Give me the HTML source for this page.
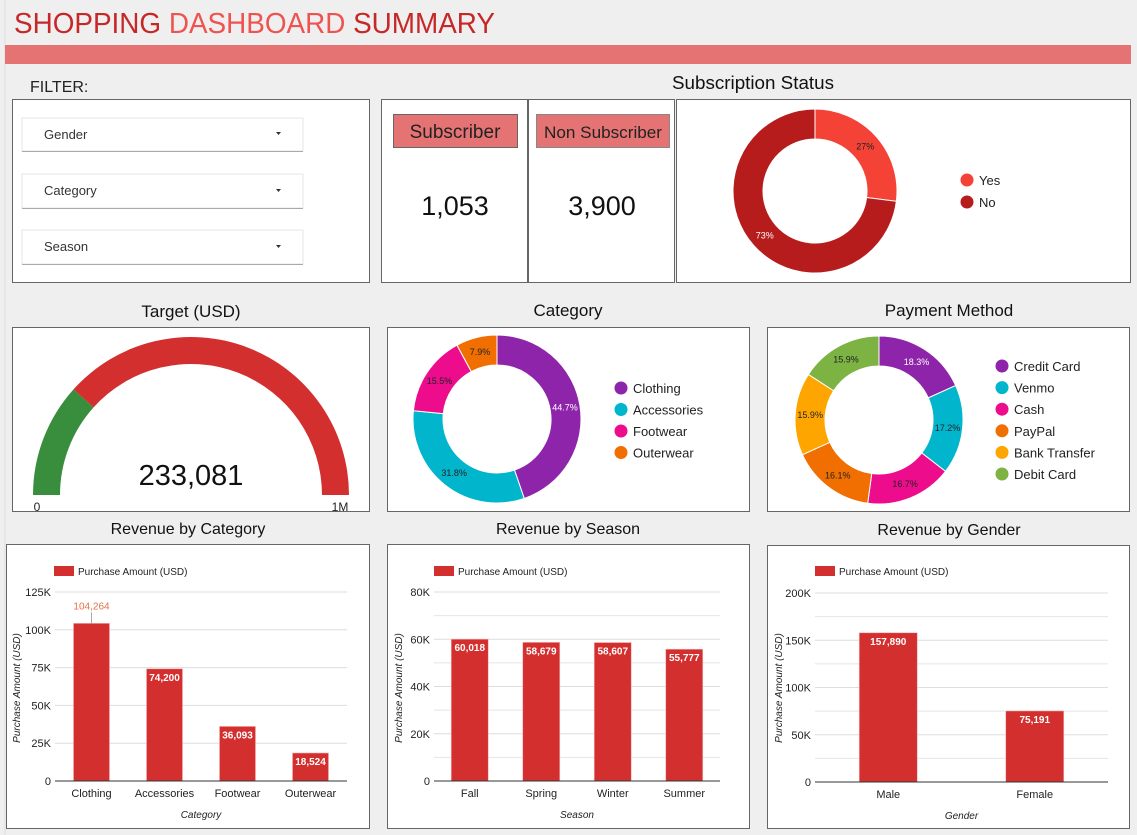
<!DOCTYPE html>
<html><head><meta charset="utf-8"><style>
body{margin:0;background:#efefef;width:1137px;height:835px;overflow:hidden;font-family:"Liberation Sans",sans-serif}
svg{display:block}
</style></head><body>
<svg id="root" width="1137" height="835" xmlns="http://www.w3.org/2000/svg" font-family="Liberation Sans, sans-serif">
<rect x="0" y="0" width="1137" height="835" fill="#efefef"/>
<line x1="5" y1="0" x2="5" y2="835" stroke="#ddd"/>
<text x="14" y="33" font-size="29" fill="#c62828" textLength="481" lengthAdjust="spacingAndGlyphs">SHOPPING <tspan fill="#ef5350">DASHBOARD</tspan> SUMMARY</text>
<rect x="5" y="45" width="1126" height="19" fill="#e57373"/>
<text x="30" y="92" font-size="16" fill="#222">FILTER:</text>
<rect x="12.5" y="99.5" width="357" height="183" fill="#fff" stroke="#666"/>
<g><rect x="22" y="118" width="281" height="33" fill="#fff" stroke="#ccc" stroke-width="0.5"/><line x1="22" y1="151.5" x2="303" y2="151.5" stroke="#aaa"/><text x="44" y="139" font-size="13" fill="#333">Gender</text><path d="M276 132 l5 0 l-2.5 3z" fill="#333"/></g>
<g><rect x="22" y="174" width="281" height="34" fill="#fff" stroke="#ccc" stroke-width="0.5"/><line x1="22" y1="208.5" x2="303" y2="208.5" stroke="#aaa"/><text x="44" y="195" font-size="13" fill="#333">Category</text><path d="M276 189 l5 0 l-2.5 3z" fill="#333"/></g>
<g><rect x="22" y="230" width="281" height="34" fill="#fff" stroke="#ccc" stroke-width="0.5"/><line x1="22" y1="264.5" x2="303" y2="264.5" stroke="#aaa"/><text x="44" y="251" font-size="13" fill="#333">Season</text><path d="M276 245 l5 0 l-2.5 3z" fill="#333"/></g>

<rect x="381.5" y="99.5" width="146" height="183" fill="#fff" stroke="#666"/>
<rect x="393.5" y="114.5" width="124" height="33" fill="#e57373" stroke="#666"/>
<text x="455" y="138" font-size="19" text-anchor="middle" fill="#222">Subscriber</text>
<text x="455" y="215" font-size="27" text-anchor="middle" fill="#111">1,053</text>
<rect x="528.5" y="99.5" width="146" height="183" fill="#fff" stroke="#666"/>
<rect x="536.5" y="114.5" width="133" height="33" fill="#e57373" stroke="#888"/>
<text x="603" y="138" font-size="17" text-anchor="middle" fill="#222" textLength="118" lengthAdjust="spacingAndGlyphs">Non Subscriber</text>
<text x="602" y="215" font-size="27" text-anchor="middle" fill="#111">3,900</text>

<text x="753" y="89" font-size="18" text-anchor="middle" fill="#111" textLength="162" lengthAdjust="spacingAndGlyphs">Subscription Status</text>
<rect x="676.5" y="99.5" width="454" height="183" fill="#fff" stroke="#666"/>
<g id="subDonut"></g>

<text x="191" y="317" font-size="17" text-anchor="middle" fill="#111">Target (USD)</text>
<rect x="12.5" y="327.5" width="357" height="184" fill="#fff" stroke="#666"/>
<g id="gauge"></g>
<text x="191" y="485" font-size="29" text-anchor="middle" fill="#111">233,081</text>
<text x="37" y="511" font-size="12" text-anchor="middle" fill="#222">0</text>
<text x="340" y="511" font-size="12" text-anchor="middle" fill="#222">1M</text>

<text x="568" y="316" font-size="17" text-anchor="middle" fill="#111">Category</text>
<rect x="387.5" y="327.5" width="362" height="184" fill="#fff" stroke="#666"/>
<g id="catDonut"></g>
<text x="949" y="316" font-size="17" text-anchor="middle" fill="#111">Payment Method</text>
<rect x="767.5" y="327.5" width="362" height="184" fill="#fff" stroke="#666"/>
<g id="payDonut"></g>

<text x="188" y="534" font-size="16" text-anchor="middle" fill="#111">Revenue by Category</text>
<rect x="6.5" y="544.5" width="363" height="284" fill="#fff" stroke="#666"/>
<text x="568" y="534" font-size="16" text-anchor="middle" fill="#111">Revenue by Season</text>
<rect x="387.5" y="544.5" width="362" height="284" fill="#fff" stroke="#666"/>
<text x="949" y="535" font-size="16" text-anchor="middle" fill="#111">Revenue by Gender</text>
<rect x="767.5" y="545.5" width="362" height="283" fill="#fff" stroke="#666"/>
<g id="bars"></g>
</svg>
<script>
const NS="http://www.w3.org/2000/svg";
const subLabels=["Yes","No"];
const subValues=[27,73];
const catLabels=["Clothing","Accessories","Footwear","Outerwear"];
const catValues=[44.7,31.8,15.5,7.9];
const payLabels=["Credit Card","Venmo","Cash","PayPal","Bank Transfer","Debit Card"];
const payValues=[18.3,17.2,16.7,16.1,15.9,15.9];
const targetValue=233081;
const targetMax=1000000;
const revCatLabels=["Clothing","Accessories","Footwear","Outerwear"];
const revCatValues=[104264,74200,36093,18524];
const revCatTicks=[0,25000,50000,75000,100000,125000];
const revSeasonLabels=["Fall","Spring","Winter","Summer"];
const revSeasonValues=[60018,58679,58607,55777];
const revSeasonTicks=[0,20000,40000,60000,80000];
const revGenderLabels=["Male","Female"];
const revGenderValues=[157890,75191];
const revGenderTicks=[0,50000,100000,150000,200000];

function el(tag,attrs,parent){const e=document.createElementNS(NS,tag);for(const k in attrs)e.setAttribute(k,attrs[k]);parent.appendChild(e);return e;}
function txt(x,y,s,size,fill,anchor,parent,extra){const t=el('text',{x:x,y:y,'font-size':size,fill:fill,'text-anchor':anchor||'start'},parent);if(extra)for(const k in extra)t.setAttribute(k,extra[k]);t.textContent=s;return t;}
function arc(cx,cy,r0,r1,a0,a1){const p=(r,a)=>[cx+r*Math.sin(a),cy-r*Math.cos(a)];const L=a1-a0>Math.PI?1:0;const A=p(r1,a0),B=p(r1,a1),C=p(r0,a1),D=p(r0,a0);return `M${A}A${r1},${r1} 0 ${L} 1 ${B}L${C}A${r0},${r0} 0 ${L} 0 ${D}Z`;}
function donut(g,cx,cy,ro,ri,labels,values,colors,lx,ly,step,lblColors,name){
  const tot=values.reduce((a,b)=>a+b,0);let a=0;
  values.forEach((v,i)=>{const a1=a+v/tot*2*Math.PI;
    const p=el('path',{d:arc(cx,cy,ri,ro,a,a1),fill:colors[i],stroke:'#fff','stroke-width':1},g);
    
    
    const m=(a+a1)/2,r=(ro+ri)/2;
    const t=txt(cx+r*Math.sin(m),cy-r*Math.cos(m)+3,(v%1===0?v:v.toFixed(1))+'%',9,lblColors[i],'middle',g);
    
    
    a=a1;});
  labels.forEach((l,i)=>{const gg=el('g',{},g);
    
    
    el('circle',{cx:lx,cy:ly+i*step,r:6.5,fill:colors[i]},gg);
    txt(lx+12,ly+i*step+5,l,13,'#222','start',gg);});
}
donut(document.getElementById('subDonut'),815,191,82,52,subLabels,subValues,['#f44336','#b71c1c'],967,180,22,['#222','#fff'],'subscription');
donut(document.getElementById('catDonut'),497,419,84,54,catLabels,catValues,['#8e24aa','#00b5cc','#ec0c8c','#f06f00'],621,388,21.5,['#fff','#222','#222','#222'],'category');
donut(document.getElementById('payDonut'),879,420,84,54,payLabels,payValues,['#8e24aa','#00b5cc','#ec0c8c','#f06f00','#ffa500','#7cb342'],1002,366,21.6,['#fff','#222','#222','#222','#222','#222'],'payment');

(function(){const g=document.getElementById('gauge');const cx=191,cy=495,ro=158,ri=131;
 const f=targetValue/targetMax;const a0=-Math.PI/2,am=a0+f*Math.PI,a1=Math.PI/2;
 const p1=el('path',{d:arc(cx,cy,ri,ro,a0,am),fill:'#388e3c'},g);
 
 
 const p2=el('path',{d:arc(cx,cy,ri,ro,am,a1),fill:'#d32f2f'},g);
 
 })();

function fmtK(v){return v===0?'0':(v/1000)+'K';}
function barChart(o){
  const g=el('g',{},document.getElementById('bars'));
  
  
  const max=o.ticks[o.ticks.length-1];
  const y=v=>o.y0-(v/max)*(o.y0-o.yTop);
  const n=o.labels.length,band=(o.x1-o.x0)/n;
  const xc=i=>o.x0+band*(i+0.5);
  for(let k=0;k<o.ticks.length-1;k++){ if(o.minor){const mv=(o.ticks[k]+o.ticks[k+1])/2;el('line',{x1:o.x0,x2:o.x1,y1:y(mv),y2:y(mv),stroke:'#e4e4e4'},g);} }
  o.ticks.forEach(t=>{ if(t>0) el('line',{x1:o.x0,x2:o.x1,y1:y(t),y2:y(t),stroke:'#ddd'},g);
    const tl=txt(o.x0-4,y(t)+4,fmtK(t),11,'#222','end',g);
    
    });
  const vmax=Math.max(...o.values);
  o.values.forEach((v,i)=>{const b=el('rect',{x:xc(i)-o.bw/2,y:y(v),width:o.bw,height:o.y0-y(v),fill:'#d32f2f',stroke:'#f3b0b0','stroke-width':0.6},g);
    
    
    let lab;
    if(o.outsideTop && v===vmax){el('line',{x1:xc(i),x2:xc(i),y1:y(v),y2:y(v)-11,stroke:'#aaa'},g);lab=txt(xc(i),y(v)-14,v.toLocaleString('en-US'),10,'#e8704a','middle',g);}
    else lab=txt(xc(i),y(v)+12,v.toLocaleString('en-US'),10,'#fff','middle',g,{'font-weight':'bold'});
    
    
    const xl=txt(xc(i),o.y0+16,o.labels[i],11,'#222','middle',g);
    
    });
  el('line',{x1:o.x0,x2:o.x1,y1:o.y0,y2:o.y0,stroke:'#333'},g);
  const at=txt((o.x0+o.x1)/2,o.y0+37,o.xTitle,10,'#222','middle',g,{'font-style':'italic'});
  
  
  const yt=txt(0,0,'Purchase Amount (USD)',10,'#222','middle',g,{'font-style':'italic',transform:`translate(${o.yTitleX},${o.yTitleY}) rotate(-90)`});
  
  
  const lg=el('g',{},g);
  
  
  el('rect',{x:o.legX,y:o.legY,width:20,height:10,fill:'#d32f2f'},lg);
  txt(o.legX+24,o.legY+9,'Purchase Amount (USD)',10,'#222','start',lg);
}
barChart({name:'revenue-by-category-chart',labels:revCatLabels,values:revCatValues,ticks:revCatTicks,x0:55,x1:347,y0:781,yTop:592,bw:36,minor:false,outsideTop:true,xTitle:'Category',yTitleX:20,yTitleY:688,legX:54,legY:566});
barChart({name:'revenue-by-season-chart',labels:revSeasonLabels,values:revSeasonValues,ticks:revSeasonTicks,x0:434,x1:720,y0:781,yTop:592,bw:37,minor:true,xTitle:'Season',yTitleX:402,yTitleY:688,legX:434,legY:566});
barChart({name:'revenue-by-gender-chart',labels:revGenderLabels,values:revGenderValues,ticks:revGenderTicks,x0:815,x1:1108,y0:782,yTop:593,bw:58,minor:true,xTitle:'Gender',yTitleX:782,yTitleY:688,legX:815,legY:566});
</script>
</body></html>
